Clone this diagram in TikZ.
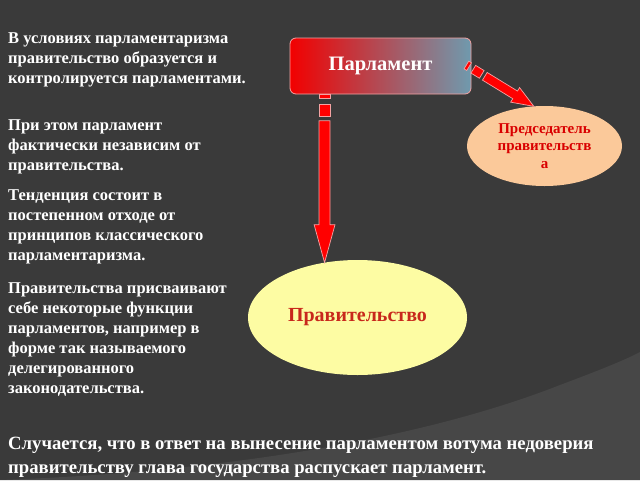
\documentclass[tikz,border=0pt]{standalone}
\usepackage{fontspec}
\setmainfont{Liberation Serif}
\usetikzlibrary{calc,shapes.geometric}

\definecolor{fond}{HTML}{3A3A3A}
\definecolor{fondclair}{HTML}{474747}
\definecolor{rouge}{HTML}{FF0000}
\definecolor{bordrouge}{HTML}{F4A3A3}
\definecolor{bleugris}{HTML}{6F9AAE}
\definecolor{peche}{HTML}{FBC99A}
\definecolor{jaune}{HTML}{FDFCA3}
\definecolor{rougetexte}{HTML}{C8281C}

\tikzset{
  texte/.style={text=white, font=\bfseries\fontsize{16.5}{20}\selectfont,
    align=left, inner sep=0pt, anchor=base west},
  bas/.style={texte, font=\bfseries\fontsize{18.7}{24}\selectfont},
  fleche/.style={fill=rouge, draw=bordrouge, line width=0.7pt},
  boite/.style={rectangle, rounded corners=6pt, minimum width=181pt,
    minimum height=56pt, left color=rouge!95!black, right color=bleugris,
    draw=bordrouge, line width=0.8pt, text=white,
    font=\bfseries\fontsize{20.5}{22}\selectfont},
  bulle/.style={ellipse, inner sep=0pt, outer sep=0pt, draw=none}
}

% fleche rayee d'un point a un autre: #3 demi-largeur, #4 longueur de la pointe
\newcommand{\fleche}[4]{%
  \path let \p1=(#1), \p2=(#2) in \pgfextra{%
    \pgfmathsetmacro\tmpang{atan2(\y2-\y1,\x2-\x1)}%
    \pgfmathsetmacro\tmplen{veclen(\x2-\x1,\y2-\y1)}%
    \xdef\flang{\tmpang}\xdef\fllen{\tmplen}%
    \xdef\flx{\x1}\xdef\fly{\y1}};
  \begin{scope}[shift={(\flx,\fly)}, rotate=\flang, x=1pt, y=1pt]
    \draw[fleche] (0,-#3) rectangle (0.7*#3,#3);
    \draw[fleche] (1.8*#3,-#3) rectangle (4*#3,#3);
    \draw[fleche] (4.8*#3,-#3) -- (\fllen-#4,-#3) -- (\fllen-#4,-1.9*#3)
      -- (\fllen,0) -- (\fllen-#4,1.9*#3) -- (\fllen-#4,#3) -- (4.8*#3,#3) -- cycle;
  \end{scope}}

\begin{document}
\begin{tikzpicture}[x=1pt, y=-1pt]
  % fond
  \fill[fond] (0,0) rectangle (640,480);
  \fill[fondclair] (0,480) .. controls (220,472) and (420,440) .. (560,385)
    .. controls (600,370) and (625,360) .. (640,352) -- (640,480) -- cycle;
  \useasboundingbox (0,0) rectangle (640,480);

  \node[boite] (parl) at (380.5,66) {Парламент};
  \node[bulle, fill=peche, minimum width=155pt, minimum height=80pt,
    text=red!85!black, align=center,
    font=\bfseries\fontsize{15}{17.5}\selectfont] (pred) at (544.5,146)
    {Председатель\\правительств\\а};
  \node[bulle, fill=jaune, minimum width=219pt, minimum height=115pt,
    text=rougetexte, font=\bfseries\fontsize{20}{22}\selectfont]
    (gouv) at (357.5,317.5) {Правительство};

  \coordinate (pointe) at (gouv.121);
  \coordinate (depart) at (parl.south -| pointe);
  \coordinate (depart2) at ($(parl.east)+(-5,-1)$);
  \fleche{depart}{pointe}{5.5}{38}
  \fleche{depart2}{pred.105}{4.5}{22}

  \node[texte] (t1) at (8,83) {В условиях парламентаризма\\правительство образуется и\\контролируется парламентами.};
  \node[texte] (t2) at (8,170) {При этом парламент\\фактически независим от\\правительства.};
  \node[texte] (t3) at (8,260) {Тенденция состоит в\\постепенном отходе от\\принципов классического\\парламентаризма.};
  \node[texte] (t4) at (8,393) {Правительства присваивают\\себе некоторые функции\\парламентов, например в\\форме так называемого\\делегированного\\законодательства.};
  \node[bas] (t5) at (8,473) {Случается, что в ответ на вынесение парламентом вотума недоверия\\правительству глава государства распускает парламент.};
\end{tikzpicture}
\end{document}
